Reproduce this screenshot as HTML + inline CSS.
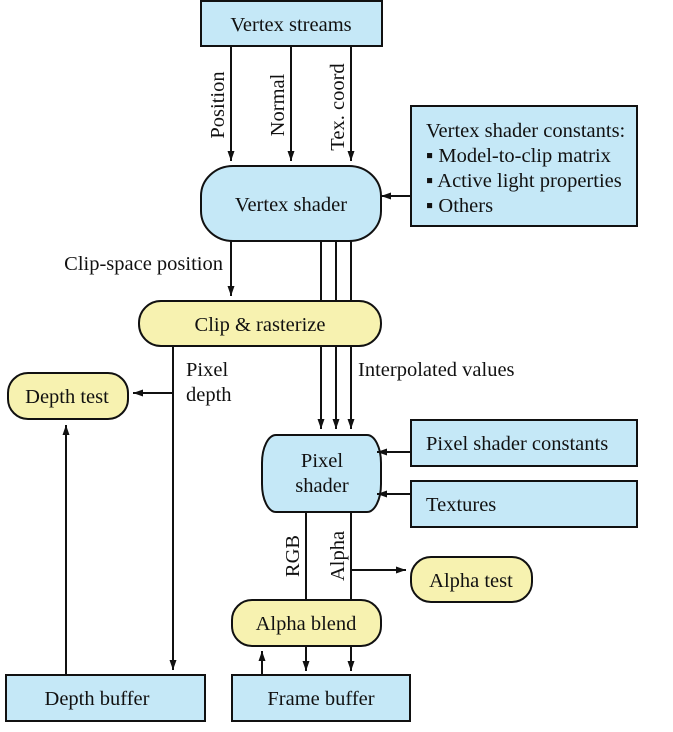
<!DOCTYPE html>
<html><head><meta charset="utf-8"><style>
html,body{margin:0;padding:0;background:#fff;}
text{font-family:"Liberation Serif",serif;font-size:20.5px;fill:#111;}
</style></head><body>
<svg width="673" height="727" viewBox="0 0 673 727" xmlns="http://www.w3.org/2000/svg">
<defs>
<marker id="a" viewBox="0 0 10 10" refX="10" refY="5" markerWidth="10" markerHeight="10" orient="auto" markerUnits="userSpaceOnUse"><path d="M0,1.5 L10,5 L0,8.5 z" fill="#111"/></marker>
</defs>
<g stroke="#111" stroke-width="2">
<rect x="201" y="1" width="181" height="45" fill="#c5e8f7"/>
<rect x="201" y="166" width="180" height="75" rx="32" ry="30" fill="#c5e8f7"/>
<rect x="411" y="106" width="226" height="120" fill="#c5e8f7"/>
<rect x="139" y="301" width="242" height="45" rx="22" fill="#f7f2b0"/>
<rect x="8" y="373" width="120" height="46" rx="20" fill="#f7f2b0"/>
<rect x="262" y="435" width="119" height="77" rx="14" ry="28" fill="#c5e8f7"/>
<rect x="411" y="420" width="226" height="46" fill="#c5e8f7"/>
<rect x="411" y="481" width="226" height="46" fill="#c5e8f7"/>
<rect x="411" y="557" width="121" height="45" rx="20" fill="#f7f2b0"/>
<rect x="232" y="600" width="149" height="46" rx="20" fill="#f7f2b0"/>
<rect x="6" y="675" width="199" height="46" fill="#c5e8f7"/>
<rect x="232" y="675" width="178" height="46" fill="#c5e8f7"/>
<g fill="none">
<line x1="231" y1="46" x2="231" y2="161" marker-end="url(#a)"/>
<line x1="291" y1="46" x2="291" y2="161" marker-end="url(#a)"/>
<line x1="351" y1="46" x2="351" y2="161" marker-end="url(#a)"/>
<line x1="411" y1="196" x2="381" y2="196" marker-end="url(#a)"/>
<line x1="231" y1="241" x2="231" y2="296" marker-end="url(#a)"/>
<line x1="321" y1="241" x2="321" y2="301"/>
<line x1="336" y1="241" x2="336" y2="301"/>
<line x1="351" y1="241" x2="351" y2="301"/>
<line x1="321" y1="346" x2="321" y2="429" marker-end="url(#a)"/>
<line x1="336" y1="346" x2="336" y2="429" marker-end="url(#a)"/>
<line x1="351" y1="346" x2="351" y2="429" marker-end="url(#a)"/>
<line x1="173" y1="346" x2="173" y2="670" marker-end="url(#a)"/>
<line x1="173" y1="393" x2="133" y2="393" marker-end="url(#a)"/>
<line x1="66" y1="675" x2="66" y2="425" marker-end="url(#a)"/>
<line x1="411" y1="452" x2="377" y2="452" marker-end="url(#a)"/>
<line x1="411" y1="494" x2="377" y2="494" marker-end="url(#a)"/>
<line x1="306" y1="512" x2="306" y2="600"/>
<line x1="351" y1="512" x2="351" y2="600"/>
<line x1="351" y1="570" x2="406" y2="570" marker-end="url(#a)"/>
<line x1="306" y1="646" x2="306" y2="671" marker-end="url(#a)"/>
<line x1="351" y1="646" x2="351" y2="671" marker-end="url(#a)"/>
<line x1="262" y1="675" x2="262" y2="651" marker-end="url(#a)"/>
</g>
</g>
<text x="291" y="31" text-anchor="middle">Vertex streams</text>
<text x="291" y="211" text-anchor="middle">Vertex shader</text>
<text x="426" y="137">Vertex shader constants:</text>
<text x="426" y="162">▪ Model-to-clip matrix</text>
<text x="426" y="187">▪ Active light properties</text>
<text x="426" y="212">▪ Others</text>
<text transform="translate(224,105) rotate(-90)" text-anchor="middle">Position</text>
<text transform="translate(284,105) rotate(-90)" text-anchor="middle">Normal</text>
<text transform="translate(344,107) rotate(-90)" text-anchor="middle">Tex. coord</text>
<text x="223" y="270" text-anchor="end">Clip-space position</text>
<text x="260" y="331" text-anchor="middle">Clip &amp; rasterize</text>
<text x="186" y="376">Pixel</text>
<text x="186" y="401">depth</text>
<text x="358" y="376">Interpolated values</text>
<text x="67" y="403" text-anchor="middle">Depth test</text>
<text x="322" y="467" text-anchor="middle">Pixel</text>
<text x="322" y="492" text-anchor="middle">shader</text>
<text x="426" y="450">Pixel shader constants</text>
<text x="426" y="511">Textures</text>
<text transform="translate(299,556) rotate(-90)" text-anchor="middle">RGB</text>
<text transform="translate(344,556) rotate(-90)" text-anchor="middle">Alpha</text>
<text x="471" y="587" text-anchor="middle">Alpha test</text>
<text x="306" y="630" text-anchor="middle">Alpha blend</text>
<text x="97" y="705" text-anchor="middle">Depth buffer</text>
<text x="321" y="705" text-anchor="middle">Frame buffer</text>
</svg>
</body></html>
